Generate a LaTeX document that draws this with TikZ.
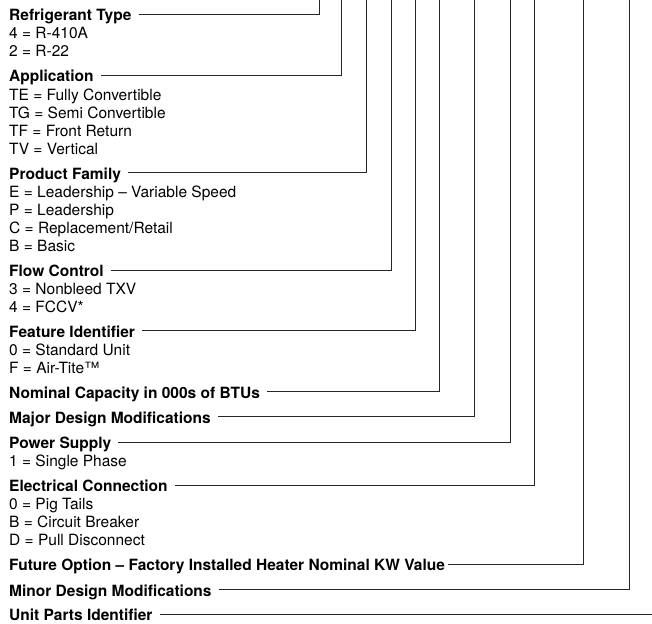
\documentclass[tikz,border=0pt]{standalone}
\usepackage{fontspec}
\setmainfont{TeX Gyre Heros}
\usetikzlibrary{positioning}

\begin{document}
\begin{tikzpicture}[
        x=1pt, y=1pt,
        font=\fontsize{15.5}{18}\selectfont,
        head/.style={font=\fontsize{15.5}{18}\selectfont\bfseries, anchor=base west, inner sep=0pt},
        item/.style={anchor=base west, inner sep=0pt},
        leader/.style={line width=0.9pt, draw=black!85}
      ]
        \useasboundingbox (0,0) rectangle (652,-623);
        % headings and their codes
        \node[head] (refr) at (9,-21) {Refrigerant Type};
        \node[item] (refr1) at ([yshift=-18pt]refr.base west) {4 = R-410A};
        \node[item] (refr2) at ([yshift=-18pt]refr1.base west) {2 = R-22};
        \node[head] (appl) at (9,-82) {Application};
        \node[item] (appl1) at ([yshift=-18pt]appl.base west) {TE = Fully Convertible};
        \node[item] (appl2) at ([yshift=-18pt]appl1.base west) {TG = Semi Convertible};
        \node[item] (appl3) at ([yshift=-18pt]appl2.base west) {TF = Front Return};
        \node[item] (appl4) at ([yshift=-18pt]appl3.base west) {TV = Vertical};
        \node[head] (fam) at (9,-179) {Product Family};
        \node[item] (fam1) at ([yshift=-18pt]fam.base west) {E = Leadership -- Variable Speed};
        \node[item] (fam2) at ([yshift=-18pt]fam1.base west) {P = Leadership};
        \node[item] (fam3) at ([yshift=-18pt]fam2.base west) {C = Replacement/Retail};
        \node[item] (fam4) at ([yshift=-18pt]fam3.base west) {B = Basic};
        \node[head] (flow) at (9,-276.5) {Flow Control};
        \node[item] (flow1) at ([yshift=-18pt]flow.base west) {3 = Nonbleed TXV};
        \node[item] (flow2) at ([yshift=-18pt]flow1.base west) {4 = FCCV*};
        \node[head] (feat) at (9,-337) {Feature Identifier};
        \node[item] (feat1) at ([yshift=-18pt]feat.base west) {0 = Standard Unit};
        \node[item] (feat2) at ([yshift=-18pt]feat1.base west) {F = Air-Tite™};
        \node[head] (cap) at (9,-398) {Nominal Capacity in 000s of BTUs};
        \node[head] (major) at (9,-423) {Major Design Modifications};
        \node[head] (power) at (9,-448.5) {Power Supply};
        \node[item] (power1) at ([yshift=-18pt]power.base west) {1 = Single Phase};
        \node[head] (elec) at (9,-491.5) {Electrical Connection};
        \node[item] (elec1) at ([yshift=-18pt]elec.base west) {0 = Pig Tails};
        \node[item] (elec2) at ([yshift=-18pt]elec1.base west) {B = Circuit Breaker};
        \node[item] (elec3) at ([yshift=-18pt]elec2.base west) {D = Pull Disconnect};
        \node[head] (future) at (9,-570.5) {Future Option -- Factory Installed Heater Nominal KW Value};
        \node[head] (minor) at (9,-596) {Minor Design Modifications};
        \node[head] (unit) at (9,-620.5) {Unit Parts Identifier};
        % top ends of the leaders
        \coordinate (refrT) at (319.5,0);
        \coordinate (applT) at (341,0);
        \coordinate (famT) at (366,0);
        \coordinate (flowT) at (391,0);
        \coordinate (featT) at (415,0);
        \coordinate (capT) at (439.5,0);
        \coordinate (majorT) at (474,0);
        \coordinate (powerT) at (510,0);
        \coordinate (elecT) at (534,0);
        \coordinate (futureT) at (583,0);
        \coordinate (minorT) at (629,0);
        \coordinate (edge) at (652,0);
        % leaders
        \draw[leader] ([xshift=7pt,yshift=6.5pt]refr.base east) -| (refrT);
        \draw[leader] ([xshift=7pt,yshift=6.5pt]appl.base east) -| (applT);
        \draw[leader] ([xshift=7pt,yshift=6.5pt]fam.base east) -| (famT);
        \draw[leader] ([xshift=7pt,yshift=6.5pt]flow.base east) -| (flowT);
        \draw[leader] ([xshift=7pt,yshift=6.5pt]feat.base east) -| (featT);
        \draw[leader] ([xshift=7pt,yshift=6.5pt]cap.base east) -| (capT);
        \draw[leader] ([xshift=7pt,yshift=6.5pt]major.base east) -| (majorT);
        \draw[leader] ([xshift=7pt,yshift=6.5pt]power.base east) -| (powerT);
        \draw[leader] ([xshift=7pt,yshift=6.5pt]elec.base east) -| (elecT);
        \draw[leader] ([xshift=3pt,yshift=6.5pt]future.base east) -| (futureT);
        \draw[leader] ([xshift=7pt,yshift=6.5pt]minor.base east) -| (minorT);
        \draw[leader] ([xshift=7pt,yshift=6.5pt]unit.base east) -- ([yshift=6.5pt]unit.base east -| edge);
      \end{tikzpicture}
\end{document}
